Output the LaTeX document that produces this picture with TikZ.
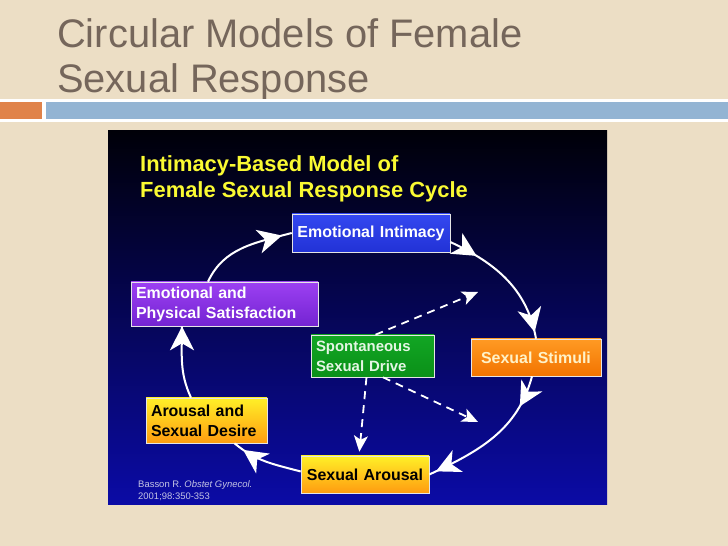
\documentclass[tikz,border=0pt]{standalone}
\usepackage{fontspec}
\setmainfont{Liberation Sans}
\usepackage{xcolor}
\definecolor{slidebg}{HTML}{ECDEC5}
\definecolor{titlegray}{HTML}{75665B}
\definecolor{barorange}{HTML}{E0834A}
\definecolor{barblue}{HTML}{93B4D3}
\definecolor{panelnavy}{HTML}{0B0BA6}
\definecolor{paneltop}{HTML}{000008}
\definecolor{headyellow}{HTML}{FAFA32}
\definecolor{intblue}{HTML}{3448F0}
\definecolor{intbluedk}{HTML}{2232D6}
\definecolor{satpurple}{HTML}{9C40F2}
\definecolor{satpurpledk}{HTML}{7424D2}
\definecolor{drivegreen}{HTML}{12A624}
\definecolor{drivegreendk}{HTML}{0A9018}
\definecolor{drivetext}{HTML}{E4F6E4}
\definecolor{stimorange}{HTML}{FF9A24}
\definecolor{stimorangedk}{HTML}{F27400}
\definecolor{stimtext}{HTML}{FFF2C8}
\definecolor{arousaltop}{HTML}{FFF028}
\definecolor{arousalbot}{HTML}{FF9C10}
\definecolor{citegray}{HTML}{C4C4E4}
\usetikzlibrary{arrows.meta,positioning,decorations.markings}
\tikzset{
  bighead/.tip={Stealth[length=24bp,width=24bp,inset=7bp]},
  smallhead/.tip={Stealth[length=16bp,width=14bp,inset=4bp]},
  stage/.style  ={draw=white!80!gray,line width=0.6bp,inner xsep=5bp,inner ysep=2bp,
                  font=\fontsize{16}{20}\selectfont\bfseries,align=left},
  lbl/.style    ={anchor=base west,inner sep=0pt},
  cyc/.style    ={color=white,line width=2bp},
  headat/.style ={postaction={decorate,decoration={markings,
                  mark=at position #1 with {\arrow{bighead}}}}},
  drive/.style  ={color=white,line width=1.8bp,dash pattern=on 8bp off 6bp,-{smallhead}},
}

\begin{document}
\begin{tikzpicture}[x=1bp,y=1bp]
\useasboundingbox (0,0) rectangle (728,546);
% slide
\fill[slidebg] (0,0) rectangle (728,546);
\node[lbl,font=\fontsize{40}{45}\selectfont,text=titlegray] (title1) at (57,498) {Circular Models of Female};
\node[lbl,font=\fontsize{40}{45}\selectfont,text=titlegray] (title2) at (57,453) {Sexual Response};
\fill[white] (0,424) rectangle (728,447);
\fill[barorange] (0,427) rectangle (42,444);
\fill[barblue] (46,427) rectangle (728,444);
% panel
\shade[top color=paneltop,bottom color=panelnavy] (108,41) rectangle (607,415);
\node[lbl,font=\fontsize{22}{26}\selectfont\bfseries,text=headyellow] (head1) at (140,374) {Intimacy-Based Model of};
\node[lbl,font=\fontsize{22}{26}\selectfont\bfseries,text=headyellow] (head2) at (140,348) {Female Sexual Response Cycle};
\node[lbl,font=\fontsize{9.5}{12}\selectfont,text=citegray] (cite1) at (138,58) {Basson R. \textit{Obstet Gynecol.}};
\node[lbl,font=\fontsize{9.5}{12}\selectfont,text=citegray] (cite2) at (138,46) {2001;98:350-353};
% stages of the cycle
\node[stage,top color=intblue,bottom color=intbluedk,text=white,text width=148bp,
      minimum height=38bp,align=center] (ei) at (371,313) {Emotional Intimacy};
\node[stage,top color=satpurple,bottom color=satpurpledk,text=white,text width=177bp,
      minimum height=44bp] (eps) at (224.5,242) {Emotional and\\Physical Satisfaction};
\node[stage,top color=drivegreen,bottom color=drivegreendk,text=drivetext,text width=113bp,
      minimum height=42bp,font=\fontsize{15}{20}\selectfont\bfseries] (ssd) at (372.5,190) {Spontaneous\\Sexual Drive};
\node[stage,top color=stimorange,bottom color=stimorangedk,text=stimtext,text width=120bp,
      minimum height=37bp,align=center] (ss) at (536,188.5) {Sexual Stimuli};
\node[stage,top color=arousaltop,bottom color=arousalbot,text=black,text width=111bp,
      minimum height=45bp] (ad) at (206.5,125.5) {Arousal and\\Sexual Desire};
\node[stage,top color=arousaltop,bottom color=arousalbot,text=black,text width=118bp,
      minimum height=37bp,align=center] (sa) at (365,71.5) {Sexual Arousal};
% cycle arcs
\draw[cyc,headat=0.9] ([xshift=-16.5bp]eps.north) to[out=65,in=195] (ei.west);
\draw[cyc,headat=0.22,headat=0.95] ([yshift=-9bp]ei.east) to[out=-25,in=100] (ss.north);
\draw[cyc,headat=0.22,headat=0.95] ([xshift=-4bp]ss.south) to[out=-105,in=25] (sa.east);
\draw[cyc,headat=0.85] ([yshift=3bp]sa.west) to[out=165,in=-40] ([xshift=28bp]ad.south);
\draw[cyc,headat=1] ([xshift=-15.5bp]ad.north) to[out=115,in=-90] ([xshift=-42.5bp]eps.south);
% spontaneous drive
\coordinate (drvup) at (478,254);
\coordinate (drvdn) at (478,124);
\draw[drive] ([xshift=3bp]ssd.north) -- (drvup);
\draw[drive] ([xshift=10.5bp]ssd.south) -- (drvdn);
\draw[drive,shorten >=4bp] ([xshift=-6bp]ssd.south) -- ([xshift=-6bp]sa.north);
\end{tikzpicture}
\end{document}
